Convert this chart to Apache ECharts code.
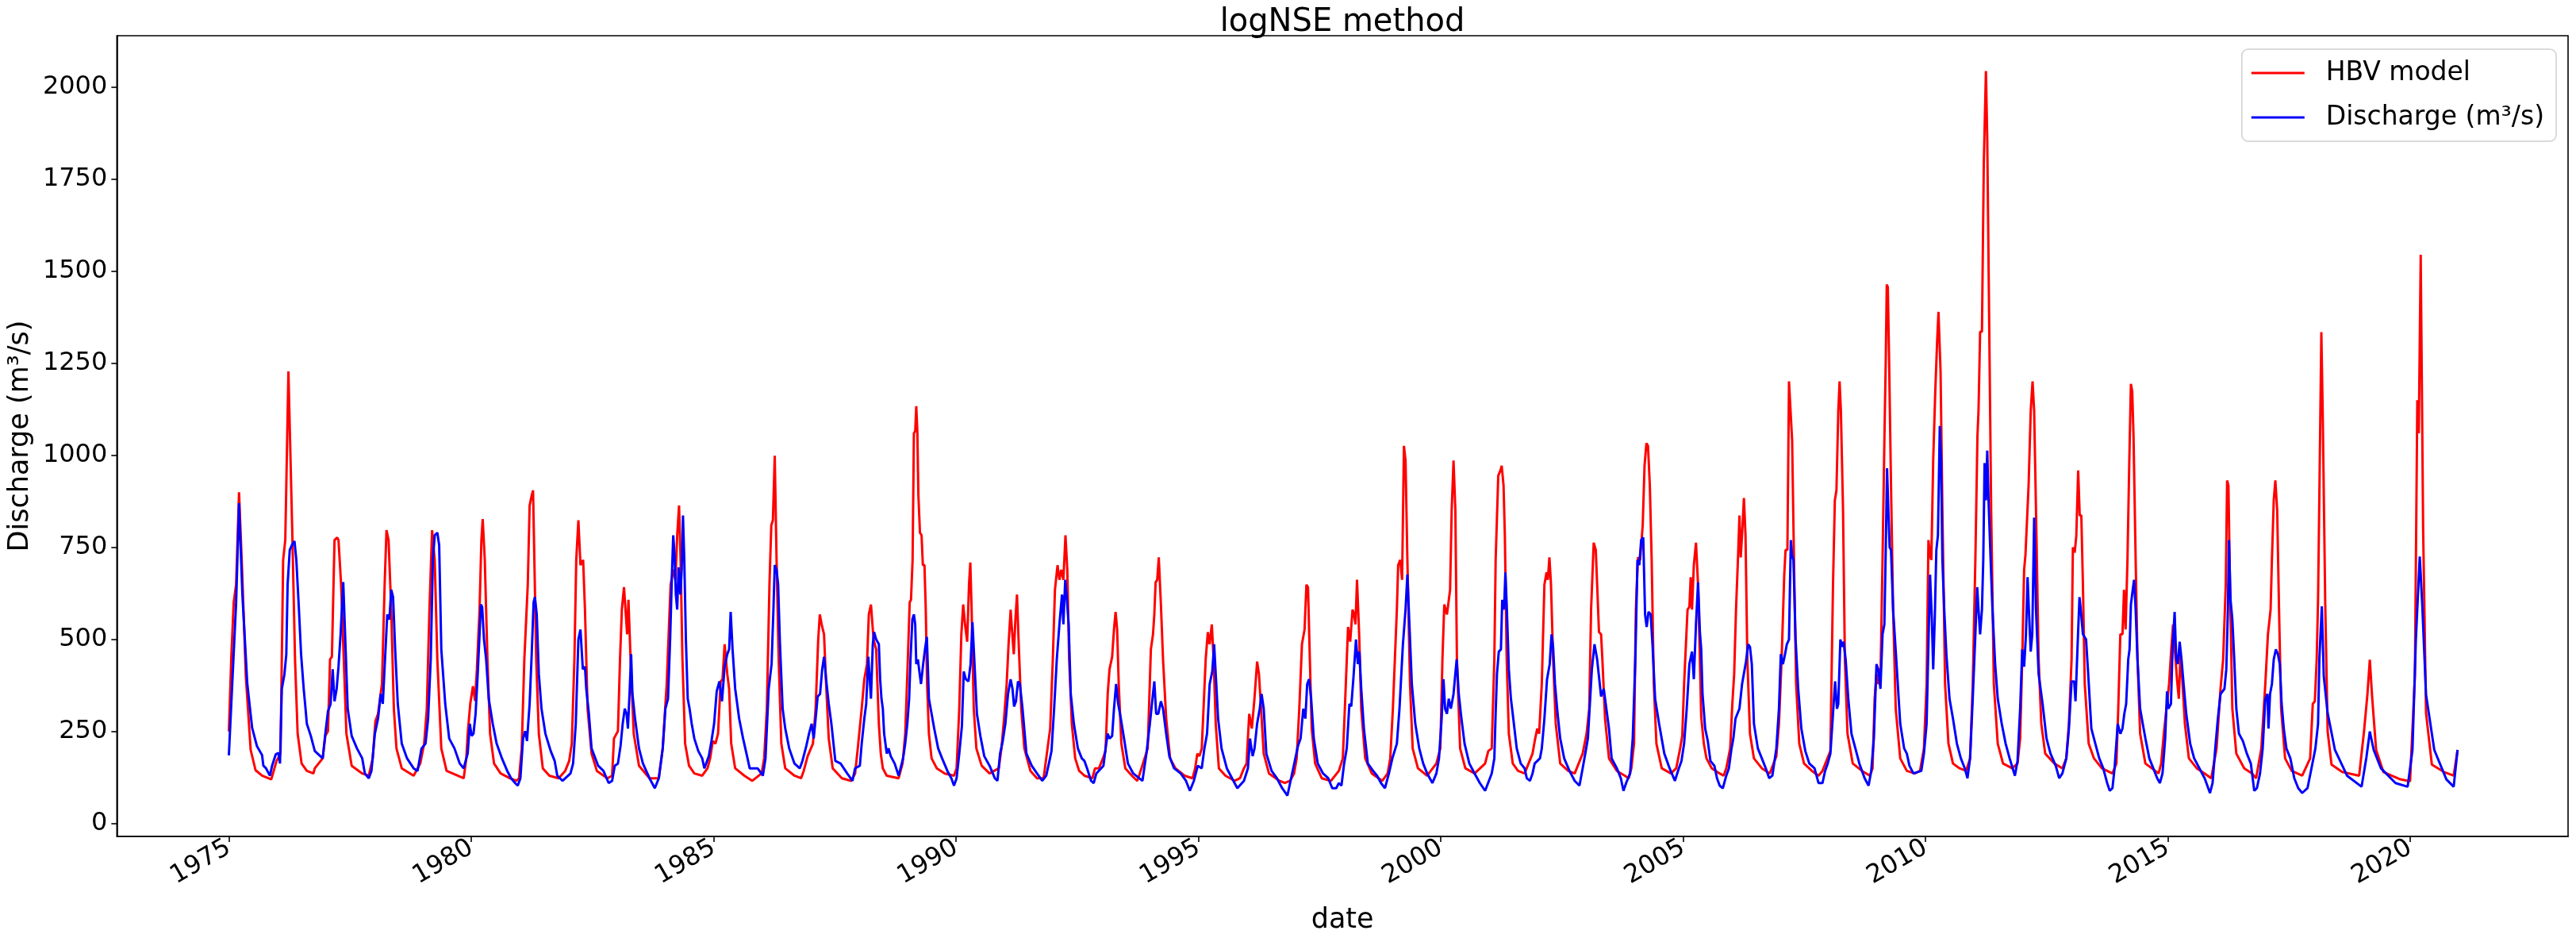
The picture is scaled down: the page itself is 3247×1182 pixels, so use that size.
<!DOCTYPE html>
<html>
<head>
<meta charset="utf-8">
<title>logNSE method</title>
<script src="https://cdn.jsdelivr.net/npm/echarts@6/dist/echarts.min.js"></script>
<style>
  html, body { margin: 0; padding: 0; background: #fff; }
  #main { width: 3247px; height: 1182px; }
</style>
</head>
<body>
<div id="main"></div>
<script>
// tick labels
var yearTicks = [1975, 1980, 1985, 1990, 1995, 2000, 2005, 2010, 2015, 2020];
var valueTicks = [0, 250, 500, 750, 1000, 1250, 1500, 1750, 2000];

// HBV model, [decimal year, m3/s]
var hbvModel = [
  [1975.0, 250], [1975.05, 450], [1975.1, 600], [1975.15, 650], [1975.21, 900], [1975.27, 700], [1975.35, 400], [1975.45, 200], [1975.55, 145],
  [1975.685, 130], [1975.875, 120], [1975.984, 170], [1976.066, 190], [1976.12, 716], [1976.164, 770], [1976.229, 1228], [1976.31, 783], [1976.365, 446], [1976.419, 244], [1976.501, 163], [1976.609, 143], [1976.745, 136], [1976.773, 150], [1976.936, 177],
  [1976.99, 238], [1977.045, 251], [1977.088, 446], [1977.126, 453], [1977.18, 770], [1977.235, 777], [1977.262, 770], [1977.316, 649], [1977.371, 446], [1977.425, 244], [1977.534, 157], [1977.752, 136], [1977.887, 130], [1977.969, 177],
  [1978.023, 278], [1978.078, 298], [1978.159, 379], [1978.214, 649], [1978.252, 797], [1978.295, 770], [1978.35, 581], [1978.404, 312], [1978.458, 204], [1978.567, 150], [1978.812, 130], [1978.948, 163],
  [1979.029, 217], [1979.084, 312], [1979.138, 581], [1979.193, 797], [1979.247, 716], [1979.301, 446], [1979.383, 204], [1979.492, 143], [1979.845, 123], [1979.899, 177], [1979.927, 244], [1979.981, 326],
  [1980.036, 373], [1980.079, 333], [1980.117, 419], [1980.172, 581], [1980.21, 770], [1980.237, 827], [1980.28, 716], [1980.335, 446], [1980.389, 244], [1980.471, 163], [1980.607, 136], [1980.797, 123], [1980.933, 116], [1980.987, 123],
  [1981.042, 204], [1981.096, 446], [1981.167, 649], [1981.205, 864], [1981.248, 891], [1981.276, 905], [1981.303, 716], [1981.341, 446], [1981.395, 244], [1981.477, 150], [1981.613, 130], [1981.803, 123], [1981.939, 143],
  [1982.021, 170], [1982.075, 217], [1982.129, 446], [1982.167, 716], [1982.211, 824], [1982.254, 702], [1982.309, 716], [1982.347, 581], [1982.401, 312], [1982.483, 190], [1982.592, 143], [1982.809, 123], [1982.907, 130], [1982.945, 231],
  [1983.027, 251], [1983.07, 446], [1983.108, 581], [1983.152, 642], [1983.19, 568], [1983.217, 514], [1983.244, 608], [1983.288, 446], [1983.353, 244], [1983.462, 157], [1983.679, 123], [1983.87, 123], [1983.951, 204],
  [1984.033, 379], [1984.114, 649], [1984.168, 690], [1984.212, 662], [1984.25, 783], [1984.288, 864], [1984.32, 716], [1984.358, 446], [1984.413, 217], [1984.494, 157], [1984.603, 136], [1984.766, 130], [1984.875, 150], [1984.929, 177], [1984.984, 224],
  [1985.038, 217], [1985.092, 244], [1985.147, 386], [1985.185, 392], [1985.228, 487], [1985.283, 406], [1985.321, 366], [1985.364, 217], [1985.446, 150], [1985.636, 130], [1985.799, 116], [1985.99, 136],
  [1986.044, 177], [1986.099, 312], [1986.153, 649], [1986.191, 810], [1986.224, 824], [1986.262, 999], [1986.3, 716], [1986.343, 446], [1986.398, 217], [1986.479, 150], [1986.669, 130], [1986.805, 123], [1986.86, 143], [1986.941, 183],
  [1987.05, 217], [1987.105, 312], [1987.159, 500], [1987.192, 568], [1987.23, 541], [1987.279, 514], [1987.322, 379], [1987.376, 231], [1987.458, 150], [1987.648, 123], [1987.839, 116], [1987.92, 136], [1987.975, 204],
  [1988.056, 312], [1988.11, 392], [1988.165, 433], [1988.203, 568], [1988.247, 595], [1988.301, 500], [1988.355, 473], [1988.41, 271], [1988.45, 190], [1988.492, 150], [1988.573, 130], [1988.818, 123], [1988.899, 163], [1988.954, 244],
  [1989.008, 446], [1989.046, 601], [1989.073, 608], [1989.106, 716], [1989.133, 1060], [1989.16, 1066], [1989.182, 1134], [1989.204, 1066], [1989.226, 891], [1989.258, 790], [1989.291, 783], [1989.318, 702], [1989.351, 702], [1989.378, 581], [1989.405, 379], [1989.443, 244], [1989.498, 177], [1989.606, 150], [1989.77, 136], [1989.96, 130],
  [1990.014, 150], [1990.069, 312], [1990.112, 514], [1990.15, 595], [1990.188, 541], [1990.232, 494], [1990.27, 649], [1990.297, 709], [1990.324, 581], [1990.368, 312], [1990.422, 204], [1990.531, 157], [1990.694, 136], [1990.884, 150], [1990.939, 204], [1990.993, 285],
  [1991.047, 379], [1991.086, 487], [1991.129, 581], [1991.156, 527], [1991.194, 460], [1991.227, 554], [1991.26, 622], [1991.292, 500], [1991.347, 312], [1991.412, 204], [1991.537, 143], [1991.673, 123], [1991.809, 123], [1991.89, 204], [1991.945, 258], [1991.999, 446],
  [1992.043, 635], [1992.097, 702], [1992.135, 662], [1992.173, 689], [1992.217, 662], [1992.26, 783], [1992.298, 689], [1992.336, 446], [1992.391, 271], [1992.461, 177], [1992.543, 143], [1992.652, 130], [1992.815, 123], [1992.87, 150], [1992.951, 150],
  [1993.033, 177], [1993.087, 197], [1993.131, 352], [1993.169, 419], [1993.223, 453], [1993.261, 527], [1993.294, 575], [1993.326, 527], [1993.359, 379], [1993.413, 217], [1993.495, 150], [1993.631, 130], [1993.74, 116], [1993.794, 136], [1993.957, 204],
  [1994.022, 473], [1994.066, 514], [1994.093, 568], [1994.12, 655], [1994.153, 662], [1994.185, 723], [1994.229, 595], [1994.273, 446], [1994.338, 285], [1994.419, 177], [1994.528, 150], [1994.718, 130], [1994.882, 123], [1994.936, 150], [1994.98, 190],
  [1995.023, 183], [1995.072, 204], [1995.153, 446], [1995.197, 520], [1995.235, 487], [1995.279, 541], [1995.317, 446], [1995.36, 271], [1995.425, 150], [1995.561, 130], [1995.752, 116], [1995.86, 123], [1995.942, 150], [1995.996, 163],
  [1996.051, 298], [1996.105, 258], [1996.159, 339], [1996.214, 440], [1996.252, 406], [1996.295, 312], [1996.35, 190], [1996.459, 136], [1996.676, 116], [1996.785, 110], [1996.894, 116], [1996.976, 136],
  [1997.03, 177], [1997.084, 312], [1997.139, 487], [1997.193, 527], [1997.231, 649], [1997.264, 642], [1997.302, 446], [1997.34, 258], [1997.411, 163], [1997.547, 123], [1997.737, 116], [1997.9, 143], [1997.982, 177],
  [1998.036, 352], [1998.09, 534], [1998.134, 494], [1998.183, 581], [1998.215, 568], [1998.243, 541], [1998.275, 662], [1998.319, 514], [1998.362, 312], [1998.444, 177], [1998.58, 136], [1998.797, 116], [1998.906, 136], [1998.961, 177],
  [1999.015, 312], [1999.097, 581], [1999.124, 702], [1999.167, 716], [1999.205, 662], [1999.243, 1026], [1999.276, 986], [1999.314, 716], [1999.368, 379], [1999.423, 204], [1999.532, 150], [1999.722, 130], [1999.912, 163], [1999.994, 204],
  [2000.037, 446], [2000.075, 595], [2000.13, 568], [2000.157, 595], [2000.195, 635], [2000.228, 851], [2000.266, 986], [2000.304, 851], [2000.336, 446], [2000.402, 204], [2000.51, 150], [2000.701, 136], [2000.918, 163], [2000.983, 197],
  [2001.054, 204], [2001.108, 446], [2001.135, 716], [2001.189, 945], [2001.233, 959], [2001.26, 972], [2001.298, 918], [2001.325, 783], [2001.363, 446], [2001.407, 244], [2001.488, 163], [2001.597, 143], [2001.733, 136], [2001.896, 190], [2001.951, 231], [2001.994, 258],
  [2002.032, 244], [2002.087, 379], [2002.141, 649], [2002.185, 682], [2002.212, 662], [2002.244, 723], [2002.277, 649], [2002.321, 446], [2002.375, 271], [2002.467, 163], [2002.631, 143], [2002.766, 136], [2002.93, 190],
  [2003.011, 244], [2003.066, 312], [2003.104, 581], [2003.158, 763], [2003.201, 743], [2003.229, 649], [2003.267, 520], [2003.31, 514], [2003.337, 446], [2003.392, 285], [2003.473, 177], [2003.636, 143], [2003.8, 130], [2003.881, 123], [2003.935, 150], [2003.99, 217],
  [2004.028, 581], [2004.071, 723], [2004.115, 716], [2004.169, 810], [2004.207, 972], [2004.245, 1033], [2004.278, 1026], [2004.316, 918], [2004.354, 716], [2004.398, 379], [2004.452, 217], [2004.561, 150], [2004.751, 136], [2004.86, 150], [2004.941, 204], [2004.985, 238],
  [2005.023, 379], [2005.094, 581], [2005.132, 588], [2005.159, 669], [2005.186, 581], [2005.224, 702], [2005.268, 763], [2005.311, 649], [2005.349, 446], [2005.376, 290], [2005.43, 217], [2005.485, 177], [2005.594, 150], [2005.757, 136], [2005.838, 130], [2005.893, 150], [2005.974, 204],
  [2006.018, 325], [2006.056, 406], [2006.094, 581], [2006.137, 729], [2006.165, 837], [2006.192, 723], [2006.224, 797], [2006.257, 884], [2006.29, 783], [2006.328, 446], [2006.382, 244], [2006.464, 177], [2006.627, 150], [2006.79, 136], [2006.926, 183], [2006.98, 271],
  [2007.035, 446], [2007.089, 675], [2007.116, 743], [2007.154, 743], [2007.187, 1201], [2007.214, 1201], [2007.252, 1040], [2007.29, 716], [2007.334, 379], [2007.399, 217], [2007.497, 163], [2007.66, 143], [2007.796, 130], [2007.878, 143], [2007.959, 170],
  [2008.041, 197], [2008.095, 649], [2008.133, 878], [2008.166, 905], [2008.204, 1120], [2008.231, 1201], [2008.258, 1120], [2008.302, 851], [2008.34, 446], [2008.394, 244], [2008.503, 163], [2008.693, 143], [2008.856, 130], [2008.911, 150], [2008.954, 339], [2008.992, 406],
  [2009.03, 379], [2009.074, 392], [2009.117, 716], [2009.155, 1040], [2009.183, 1255], [2009.204, 1464], [2009.226, 1457], [2009.253, 1255], [2009.292, 918], [2009.335, 581], [2009.389, 312], [2009.482, 177], [2009.618, 143], [2009.781, 136], [2009.89, 143], [2009.971, 204],
  [2010.026, 379], [2010.064, 770], [2010.097, 729], [2010.124, 716], [2010.162, 986], [2010.205, 1174], [2010.243, 1309], [2010.271, 1390], [2010.314, 1228], [2010.352, 851], [2010.407, 379], [2010.477, 217], [2010.57, 163], [2010.706, 150], [2010.842, 143], [2010.923, 177], [2010.978, 379],
  [2011.032, 716], [2011.075, 1053], [2011.097, 1120], [2011.13, 1336], [2011.168, 1336], [2011.206, 1794], [2011.25, 2044], [2011.277, 1862], [2011.315, 1390], [2011.358, 851], [2011.413, 379], [2011.494, 217], [2011.603, 163], [2011.793, 150], [2011.902, 163], [2011.956, 231], [2011.999, 446],
  [2012.038, 689], [2012.065, 729], [2012.092, 729], [2012.13, 918], [2012.174, 1120], [2012.212, 1201], [2012.245, 1120], [2012.283, 851], [2012.337, 446], [2012.392, 271], [2012.473, 190], [2012.663, 163], [2012.827, 150], [2012.908, 177], [2012.962, 271],
  [2013.017, 446], [2013.044, 750], [2013.082, 736], [2013.115, 783], [2013.153, 959], [2013.185, 837], [2013.218, 837], [2013.251, 649], [2013.289, 379], [2013.37, 217], [2013.479, 177], [2013.642, 150], [2013.86, 136], [2013.942, 163], [2013.98, 312],
  [2014.023, 514], [2014.067, 514], [2014.099, 635], [2014.132, 527], [2014.17, 716], [2014.208, 986], [2014.241, 1194], [2014.268, 1174], [2014.295, 1053], [2014.339, 716], [2014.377, 446], [2014.431, 244], [2014.54, 163], [2014.676, 150], [2014.812, 136], [2014.866, 163], [2014.92, 244], [2014.975, 312],
  [2015.029, 379], [2015.073, 473], [2015.111, 541], [2015.154, 460], [2015.192, 392], [2015.23, 339], [2015.263, 460], [2015.301, 392], [2015.355, 271], [2015.437, 177], [2015.6, 150], [2015.763, 136], [2015.899, 123],
  [2016.008, 204], [2016.09, 366], [2016.144, 446], [2016.198, 649], [2016.226, 932], [2016.253, 918], [2016.285, 649], [2016.334, 312], [2016.416, 190], [2016.579, 150], [2016.742, 136], [2016.824, 123], [2016.932, 204],
  [2017.014, 379], [2017.068, 514], [2017.123, 581], [2017.15, 716], [2017.188, 878], [2017.221, 932], [2017.259, 851], [2017.297, 581], [2017.34, 312], [2017.422, 177], [2017.558, 143], [2017.775, 130], [2017.939, 177], [2017.993, 325],
  [2018.036, 332], [2018.074, 446], [2018.102, 608], [2018.13, 900], [2018.17, 1335], [2018.2, 1100], [2018.25, 600], [2018.3, 250], [2018.38, 160], [2018.6, 140], [2018.95, 130],
  [2019.05, 250], [2019.12, 350], [2019.17, 445], [2019.22, 340], [2019.3, 200], [2019.45, 140], [2019.8, 120], [2020.0, 115],
  [2020.1, 400], [2020.15, 1150], [2020.18, 1060], [2020.22, 1545], [2020.27, 800], [2020.33, 300], [2020.45, 160], [2020.7, 140], [2020.9, 130], [2020.98, 200]
];

// observed discharge, [decimal year, m3/s]
var discharge = [
  [1975.0, 185], [1975.07, 380], [1975.15, 600], [1975.21, 870], [1975.28, 620], [1975.38, 380], [1975.48, 260], [1975.58, 210],
  [1975.685, 186], [1975.712, 157], [1975.767, 150], [1975.848, 130], [1975.892, 157], [1975.968, 188], [1976.022, 192], [1976.055, 163], [1976.093, 366], [1976.147, 406], [1976.185, 460], [1976.212, 649], [1976.256, 743], [1976.31, 759], [1976.354, 767], [1976.392, 716], [1976.446, 581], [1976.49, 460], [1976.544, 366], [1976.582, 312], [1976.609, 271], [1976.691, 238], [1976.773, 197], [1976.936, 177],
  [1976.99, 244], [1977.045, 305], [1977.099, 325], [1977.142, 419], [1977.18, 332], [1977.224, 366], [1977.262, 426], [1977.305, 514], [1977.36, 656], [1977.398, 514], [1977.452, 312], [1977.534, 238], [1977.643, 204], [1977.752, 177], [1977.806, 136], [1977.887, 123], [1977.942, 143],
  [1978.012, 244], [1978.078, 285], [1978.132, 352], [1978.176, 325], [1978.268, 568], [1978.312, 554], [1978.35, 635], [1978.388, 615], [1978.431, 473], [1978.485, 325], [1978.567, 217], [1978.676, 177], [1978.812, 150], [1978.893, 143], [1978.975, 204],
  [1979.057, 217], [1979.111, 285], [1979.165, 446], [1979.209, 716], [1979.247, 783], [1979.301, 790], [1979.339, 756], [1979.383, 473], [1979.464, 325], [1979.546, 231], [1979.655, 204], [1979.764, 163], [1979.845, 150], [1979.899, 177], [1979.927, 190], [1979.971, 271],
  [1980.009, 238], [1980.047, 244], [1980.09, 298], [1980.134, 406], [1980.172, 514], [1980.199, 595], [1980.226, 588], [1980.264, 500], [1980.308, 446], [1980.362, 339], [1980.444, 271], [1980.525, 217], [1980.634, 177], [1980.743, 143], [1980.824, 123], [1980.906, 110], [1980.96, 103],
  [1981.015, 123], [1981.069, 231], [1981.113, 251], [1981.151, 224], [1981.205, 325], [1981.248, 460], [1981.287, 601], [1981.314, 615], [1981.352, 568], [1981.395, 406], [1981.45, 312], [1981.531, 244], [1981.64, 197], [1981.722, 170], [1981.776, 130], [1981.885, 116],
  [1982.048, 136], [1982.102, 163], [1982.157, 271], [1982.211, 500], [1982.254, 527], [1982.303, 419], [1982.347, 426], [1982.374, 366], [1982.428, 298], [1982.483, 204], [1982.619, 157], [1982.728, 143], [1982.836, 110], [1982.907, 116], [1982.961, 157],
  [1983.027, 163], [1983.081, 211], [1983.125, 271], [1983.168, 312], [1983.206, 298], [1983.233, 258], [1983.271, 366], [1983.299, 460], [1983.326, 352], [1983.38, 285], [1983.462, 204], [1983.543, 163], [1983.679, 123], [1983.788, 96], [1983.87, 123], [1983.951, 204],
  [1984.006, 312], [1984.06, 339], [1984.104, 500], [1984.141, 676], [1984.168, 783], [1984.195, 729], [1984.222, 622], [1984.25, 581], [1984.277, 696], [1984.315, 622], [1984.342, 689], [1984.369, 837], [1984.396, 716], [1984.429, 500], [1984.467, 339], [1984.505, 312], [1984.549, 271], [1984.603, 231], [1984.685, 197], [1984.766, 177], [1984.81, 150], [1984.902, 183], [1984.957, 224],
  [1985.011, 271], [1985.065, 359], [1985.12, 386], [1985.174, 332], [1985.228, 426], [1985.283, 460], [1985.321, 473], [1985.353, 575], [1985.392, 473], [1985.446, 366], [1985.528, 285], [1985.609, 231], [1985.691, 183], [1985.745, 150], [1985.908, 150],
  [1986.017, 130], [1986.071, 177], [1986.137, 366], [1986.197, 433], [1986.235, 581], [1986.262, 702], [1986.3, 689], [1986.332, 649], [1986.37, 487], [1986.425, 312], [1986.479, 258], [1986.561, 204], [1986.669, 163], [1986.778, 150], [1986.833, 170], [1986.914, 211], [1986.969, 244],
  [1987.023, 271], [1987.066, 231], [1987.105, 285], [1987.148, 345], [1987.197, 352], [1987.241, 419], [1987.279, 453], [1987.322, 392], [1987.376, 325], [1987.431, 271], [1987.512, 170], [1987.621, 163], [1987.757, 136], [1987.866, 116], [1987.92, 150],
  [1988.018, 157], [1988.056, 217], [1988.11, 285], [1988.149, 325], [1988.192, 453], [1988.247, 339], [1988.285, 487], [1988.312, 520], [1988.355, 500], [1988.41, 487], [1988.437, 392], [1988.464, 339], [1988.492, 312], [1988.519, 244], [1988.573, 190], [1988.611, 204], [1988.655, 183], [1988.736, 163], [1988.818, 130], [1988.91, 177], [1988.954, 217], [1988.997, 271],
  [1989.035, 339], [1989.063, 446], [1989.101, 554], [1989.133, 568], [1989.16, 541], [1989.182, 433], [1989.215, 446], [1989.253, 406], [1989.28, 379], [1989.324, 433], [1989.362, 473], [1989.4, 507], [1989.443, 339], [1989.498, 298], [1989.552, 258], [1989.634, 204], [1989.715, 177], [1989.824, 143], [1989.906, 123], [1989.96, 103],
  [1990.014, 123], [1990.069, 190], [1990.123, 264], [1990.161, 413], [1990.205, 392], [1990.259, 386], [1990.302, 433], [1990.341, 547], [1990.379, 446], [1990.433, 298], [1990.504, 238], [1990.585, 183], [1990.694, 157], [1990.803, 123], [1990.857, 116], [1990.911, 190], [1990.966, 224],
  [1991.02, 271], [1991.075, 352], [1991.129, 392], [1991.167, 366], [1991.2, 318], [1991.238, 332], [1991.281, 386], [1991.319, 379], [1991.374, 312], [1991.455, 190], [1991.564, 157], [1991.673, 136], [1991.782, 116], [1991.863, 130], [1991.918, 163], [1991.972, 197],
  [1992.026, 312], [1992.081, 446], [1992.135, 541], [1992.189, 622], [1992.217, 541], [1992.255, 662], [1992.282, 622], [1992.326, 541], [1992.369, 352], [1992.434, 271], [1992.516, 204], [1992.597, 177], [1992.652, 170], [1992.706, 150], [1992.788, 116], [1992.842, 110], [1992.897, 136],
  [1993.044, 157], [1993.087, 204], [1993.131, 244], [1993.169, 231], [1993.223, 238], [1993.261, 312], [1993.305, 379], [1993.348, 325], [1993.402, 285], [1993.468, 231], [1993.549, 163], [1993.658, 136], [1993.848, 116], [1993.93, 190],
  [1994.001, 271], [1994.055, 339], [1994.093, 386], [1994.131, 298], [1994.175, 298], [1994.229, 332], [1994.273, 312], [1994.338, 244], [1994.403, 183], [1994.501, 150], [1994.637, 136], [1994.746, 116], [1994.827, 89], [1994.909, 116], [1994.99, 157],
  [1995.072, 150], [1995.126, 204], [1995.181, 244], [1995.235, 379], [1995.289, 413], [1995.327, 487], [1995.371, 379], [1995.409, 285], [1995.48, 204], [1995.589, 150], [1995.697, 123], [1995.806, 96], [1995.942, 116],
  [1996.024, 150], [1996.067, 231], [1996.121, 183], [1996.16, 204], [1996.214, 271], [1996.268, 312], [1996.306, 352], [1996.35, 312], [1996.404, 190], [1996.513, 143], [1996.622, 123], [1996.731, 96], [1996.839, 76], [1996.894, 110],
  [1997.003, 177], [1997.057, 211], [1997.111, 231], [1997.166, 312], [1997.209, 285], [1997.247, 379], [1997.286, 392], [1997.329, 339], [1997.383, 231], [1997.465, 163], [1997.574, 136], [1997.682, 123], [1997.764, 96], [1997.846, 96], [1997.9, 110], [1997.954, 103],
  [1998.009, 163], [1998.063, 204], [1998.118, 325], [1998.156, 318], [1998.199, 392], [1998.254, 500], [1998.292, 433], [1998.324, 467], [1998.362, 366], [1998.417, 258], [1998.498, 163], [1998.607, 143], [1998.689, 130], [1998.77, 110], [1998.852, 96], [1998.933, 136],
  [1999.004, 177], [1999.097, 217], [1999.151, 312], [1999.222, 487], [1999.276, 581], [1999.314, 676], [1999.352, 554], [1999.406, 379], [1999.477, 271], [1999.559, 204], [1999.64, 163], [1999.722, 136], [1999.831, 110], [1999.912, 136], [1999.966, 177],
  [2000.021, 285], [2000.059, 392], [2000.092, 312], [2000.13, 298], [2000.168, 339], [2000.211, 312], [2000.266, 352], [2000.331, 446], [2000.374, 352], [2000.429, 285], [2000.494, 217], [2000.592, 163], [2000.701, 136], [2000.809, 110], [2000.918, 89],
  [2001.054, 136], [2001.108, 177], [2001.135, 300], [2001.162, 406], [2001.2, 467], [2001.244, 473], [2001.271, 608], [2001.309, 581], [2001.336, 682], [2001.363, 595], [2001.407, 419], [2001.45, 339], [2001.505, 278], [2001.57, 204], [2001.652, 163], [2001.733, 150], [2001.777, 123], [2001.842, 116], [2001.896, 136], [2001.94, 163],
  [2002.049, 177], [2002.087, 204], [2002.141, 285], [2002.195, 392], [2002.25, 433], [2002.288, 514], [2002.32, 480], [2002.359, 379], [2002.413, 298], [2002.467, 231], [2002.549, 177], [2002.658, 143], [2002.766, 116], [2002.864, 103], [2002.93, 150], [2002.984, 190],
  [2003.038, 231], [2003.12, 419], [2003.174, 487], [2003.229, 446], [2003.267, 399], [2003.31, 345], [2003.365, 366], [2003.419, 312], [2003.473, 258], [2003.528, 177], [2003.636, 150], [2003.718, 123], [2003.772, 89], [2003.827, 110], [2003.908, 136], [2003.963, 231],
  [2004.017, 446], [2004.061, 716], [2004.099, 702], [2004.137, 770], [2004.18, 777], [2004.218, 568], [2004.251, 534], [2004.289, 575], [2004.333, 568], [2004.371, 487], [2004.425, 339], [2004.507, 271], [2004.615, 190], [2004.724, 150], [2004.833, 116], [2004.914, 150], [2004.969, 170],
  [2005.023, 217], [2005.077, 312], [2005.132, 433], [2005.186, 467], [2005.224, 392], [2005.268, 541], [2005.311, 655], [2005.349, 520], [2005.376, 473], [2005.403, 352], [2005.458, 258], [2005.512, 224], [2005.566, 170], [2005.648, 157], [2005.702, 123], [2005.757, 103], [2005.822, 96], [2005.893, 130], [2005.947, 150],
  [2006.001, 204], [2006.039, 231], [2006.083, 285], [2006.165, 312], [2006.219, 379], [2006.3, 440], [2006.344, 487], [2006.382, 480], [2006.42, 433], [2006.464, 271], [2006.545, 204], [2006.627, 177], [2006.708, 150], [2006.779, 123], [2006.844, 130], [2006.926, 204], [2006.98, 312],
  [2007.018, 460], [2007.062, 433], [2007.105, 460], [2007.143, 487], [2007.187, 500], [2007.225, 770], [2007.252, 729], [2007.279, 716], [2007.323, 500], [2007.377, 366], [2007.442, 258], [2007.524, 197], [2007.606, 163], [2007.714, 150], [2007.796, 110], [2007.878, 110], [2007.932, 143], [2007.986, 163],
  [2008.041, 190], [2008.095, 298], [2008.138, 386], [2008.177, 312], [2008.204, 325], [2008.247, 500], [2008.285, 480], [2008.313, 494], [2008.356, 446], [2008.41, 339], [2008.476, 244], [2008.557, 204], [2008.639, 163], [2008.748, 123], [2008.829, 103], [2008.884, 143], [2008.938, 231], [2008.992, 433],
  [2009.03, 419], [2009.074, 366], [2009.117, 514], [2009.155, 541], [2009.183, 743], [2009.21, 965], [2009.237, 851], [2009.264, 750], [2009.292, 743], [2009.335, 581], [2009.4, 446], [2009.482, 271], [2009.563, 204], [2009.618, 190], [2009.672, 157], [2009.754, 136], [2009.917, 143], [2009.971, 190],
  [2010.026, 271], [2010.064, 487], [2010.097, 676], [2010.135, 554], [2010.162, 419], [2010.194, 554], [2010.227, 743], [2010.26, 783], [2010.298, 1080], [2010.325, 986], [2010.352, 716], [2010.39, 581], [2010.434, 460], [2010.499, 339], [2010.57, 285], [2010.651, 217], [2010.733, 177], [2010.814, 150], [2010.869, 123], [2010.923, 177], [2010.978, 339],
  [2011.032, 514], [2011.07, 642], [2011.097, 581], [2011.13, 514], [2011.168, 581], [2011.195, 716], [2011.222, 979], [2011.25, 878], [2011.277, 1013], [2011.304, 878], [2011.347, 716], [2011.385, 581], [2011.44, 433], [2011.494, 339], [2011.576, 271], [2011.657, 217], [2011.739, 177], [2011.848, 130], [2011.902, 170], [2011.956, 312], [2011.999, 473],
  [2012.038, 426], [2012.076, 514], [2012.109, 669], [2012.136, 581], [2012.174, 467], [2012.206, 514], [2012.245, 831], [2012.283, 581], [2012.337, 406], [2012.419, 325], [2012.5, 231], [2012.582, 190], [2012.69, 157], [2012.761, 123], [2012.827, 136], [2012.908, 177], [2012.962, 258],
  [2013.017, 386], [2013.071, 386], [2013.098, 332], [2013.142, 487], [2013.18, 615], [2013.207, 581], [2013.251, 514], [2013.316, 500], [2013.36, 406], [2013.425, 258], [2013.507, 217], [2013.588, 177], [2013.67, 150], [2013.751, 110], [2013.805, 89], [2013.86, 96], [2013.904, 150], [2013.969, 271],
  [2014.023, 244], [2014.067, 258], [2014.105, 298], [2014.143, 325], [2014.186, 446], [2014.213, 473], [2014.241, 595], [2014.279, 635], [2014.306, 662], [2014.339, 581], [2014.377, 446], [2014.431, 312], [2014.485, 271], [2014.54, 231], [2014.621, 177], [2014.703, 150], [2014.784, 123], [2014.839, 110], [2014.893, 136], [2014.948, 231], [2014.986, 359],
  [2015.013, 312], [2015.067, 325], [2015.1, 473], [2015.143, 575], [2015.176, 446], [2015.209, 433], [2015.247, 494], [2015.285, 446], [2015.328, 379], [2015.383, 298], [2015.464, 217], [2015.546, 177], [2015.655, 150], [2015.763, 123], [2015.872, 83], [2015.926, 110], [2015.981, 204],
  [2016.035, 285], [2016.09, 352], [2016.171, 366], [2016.209, 419], [2016.242, 581], [2016.264, 770], [2016.296, 608], [2016.334, 554], [2016.373, 446], [2016.416, 312], [2016.47, 244], [2016.552, 224], [2016.633, 190], [2016.715, 163], [2016.786, 89], [2016.84, 96], [2016.905, 136], [2016.96, 204],
  [2017.014, 339], [2017.058, 352], [2017.079, 258], [2017.112, 352], [2017.15, 379], [2017.188, 446], [2017.232, 473], [2017.275, 460], [2017.313, 433], [2017.351, 325], [2017.395, 258], [2017.449, 204], [2017.531, 177], [2017.612, 123], [2017.694, 96], [2017.775, 83], [2017.884, 96], [2017.966, 150],
  [2018.047, 204], [2018.102, 271], [2018.13, 450], [2018.18, 590], [2018.22, 400], [2018.3, 300], [2018.45, 200], [2018.7, 130],
  [2019.0, 100], [2019.1, 180], [2019.17, 250], [2019.25, 200], [2019.4, 150], [2019.7, 110], [2019.95, 100],
  [2020.05, 200], [2020.12, 500], [2020.2, 725], [2020.25, 600], [2020.33, 350], [2020.5, 200], [2020.75, 120], [2020.9, 100], [2020.98, 200]
];

var myChart = echarts.init(document.getElementById('main'), null, { renderer: 'canvas' });
var font = 'DejaVu Sans';

var option = {
  animation: false,
  backgroundColor: '#fff',
  title: {
    text: 'logNSE method',
    left: 1687,
    top: 4,
    textAlign: 'center',
    textStyle: { fontFamily: font, fontSize: 40, fontWeight: 'normal', color: '#000' }
  },
  legend: {
    orient: 'vertical',
    right: 25,
    top: 62,
    padding: [13, 15, 13, 12],
    itemGap: 22,
    itemWidth: 67,
    itemHeight: 3,
    icon: 'rect',
    backgroundColor: 'rgba(255,255,255,0.8)',
    borderColor: '#d0d0d0',
    borderWidth: 1.5,
    borderRadius: 8,
    textStyle: { fontFamily: font, fontSize: 33, color: '#000', lineHeight: 34, padding: [0, 0, 0, 22] },
    data: ['HBV model', 'Discharge (m\u00b3/s)']
  },
  grid: {
    left: 137, right: 10, top: 45, bottom: 118,
    show: true, borderColor: '#000', borderWidth: 1.6
  },
  xAxis: {
    type: 'value',
    min: 1972.69,
    max: 2023.26,
    name: 'date',
    nameLocation: 'middle',
    nameGap: 88,
    nameTextStyle: { fontFamily: font, fontSize: 35, color: '#000' },
    axisLine: { onZero: false, lineStyle: { color: '#000', width: 1.6 } },
    axisTick: { customValues: yearTicks, length: 7, lineStyle: { color: '#000', width: 1.6 } },
    axisLabel: {
      customValues: yearTicks,
      rotate: 30,
      margin: 12,
      fontFamily: font, fontSize: 32, color: '#000',
      formatter: function (v) { return String(v); }
    },
    splitLine: { show: false }
  },
  yAxis: {
    type: 'value',
    min: -35,
    max: 2140,
    name: 'Discharge (m\u00b3/s)',
    nameLocation: 'middle',
    nameGap: 96,
    nameTextStyle: { fontFamily: font, fontSize: 35, color: '#000' },
    axisLine: { show: true, onZero: false, lineStyle: { color: '#000', width: 1.6 } },
    axisTick: { show: true, customValues: valueTicks, length: 7, lineStyle: { color: '#000', width: 1.6 } },
    axisLabel: {
      customValues: valueTicks,
      margin: 12,
      fontFamily: font, fontSize: 32, color: '#000',
      formatter: function (v) { return String(v); }
    },
    splitLine: { show: false }
  },
  series: [
    {
      name: 'HBV model',
      type: 'line',
      data: hbvModel,
      showSymbol: false,
      lineStyle: { color: '#ff0000', width: 3 },
      itemStyle: { color: '#ff0000' }
    },
    {
      name: 'Discharge (m\u00b3/s)',
      type: 'line',
      data: discharge,
      showSymbol: false,
      lineStyle: { color: '#0000ff', width: 3 },
      itemStyle: { color: '#0000ff' }
    }
  ]
};

myChart.setOption(option);
</script>
</body>
</html>
